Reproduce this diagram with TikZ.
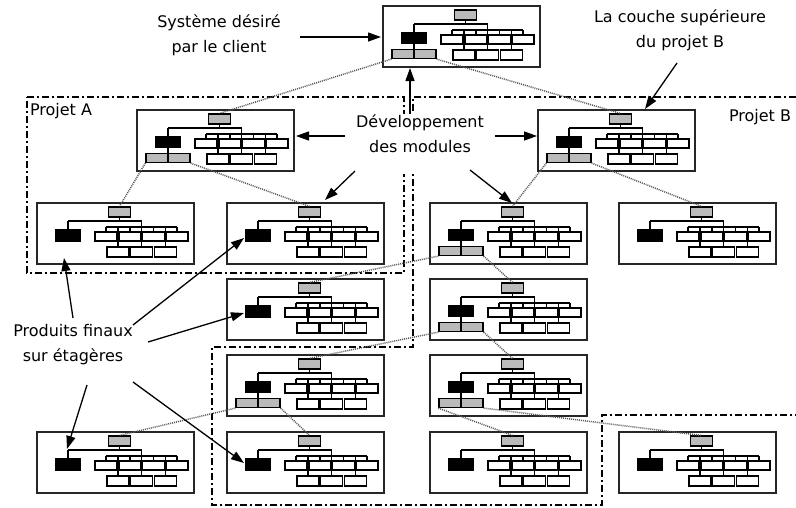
\documentclass[tikz,border=0pt]{standalone}
\usepackage{fontspec}
\setmainfont{DejaVu Sans}
\usetikzlibrary{arrows.meta}
\newcommand\mychartbody{%
  \node[frm] (-frame) at (78.5,30.5) {};
  \draw[tree] (82.5,14) -- (82.5,18) (31,18) -- (104.75,18) (31,18) -- (31,27) (104.75,18) -- (104.75,44)
    (69,24) -- (140,24) (69,24) -- (69,29) (93,24) -- (93,29) (116.5,24) -- (116.5,29) (140,24) -- (140,29)
    (81,24) -- (81,44) (128.25,24) -- (128.25,44);
  \node[gbx] (-top) at (82.5,9) {};
  \foreach \cx in {69,93,116.5,140} \node[wbx] at (\cx,33.5) {};
  \foreach \cx in {81,104.75,128.25} \node[wbx, minimum height=10pt] at (\cx,49) {};
}
\tikzset{
  frm/.style={draw=black!85, line width=1.5pt, fill=white, minimum width=157pt, minimum height=61pt, inner sep=0pt},
  gbx/.style={draw=black, line width=1.2pt, fill=black!27, minimum width=22pt, minimum height=10pt, inner sep=0pt},
  kbx/.style={draw=black, line width=1.2pt, fill=black, minimum width=24pt, minimum height=11pt, inner sep=0pt},
  wbx/.style={draw=black, line width=1.2pt, fill=white, minimum width=22pt, minimum height=9pt, inner sep=0pt},
  tree/.style={line width=1.3pt, draw=black},
  conn/.style={draw=black!65, line width=1.5pt, dash pattern=on 1pt off 1pt},
  bound/.style={draw=black, line width=1.2pt, dash pattern=on 7pt off 3pt on 2pt off 3pt},
  arr/.style={line width=1.3pt, -{Triangle[length=13pt,width=9pt]}},
  lbl/.style={align=center, font=\fontsize{16}{25}\selectfont, inner sep=1pt},
  pics/chart/.style={code={%
    \mychartbody
    \node[kbx] (-blk) at (31,32.5) {};
  }},
  pics/chartk/.style={code={%
    \mychartbody
    \draw[tree] (31,37) -- (31,44);
    \node[kbx, minimum height=10pt] (-blk) at (31,32) {};
    \node[gbx, minimum height=9pt] (-kl) at (20,48) {};
    \node[gbx, minimum height=9pt] (-kr) at (42,48) {};
  }}
}
\begin{document}
\begin{tikzpicture}[x=1pt,y=-1pt]
\useasboundingbox (0,0) rectangle (796,507);
% project boundaries
\draw[bound] (27,97) -- (404,97) -- (404,273) -- (27,273) -- cycle;
\draw[bound] (796,97) -- (413,97) -- (413,347) -- (212,347) -- (212,505) -- (602,505) -- (602,415) -- (796,415);
\fill[white] (346,114) rectangle (494,174);
% charts
\pic (t) at (383,6) {chartk};
\pic (a1) at (137,110) {chartk};
\pic (b1) at (538,110) {chartk};
\pic (r2a) at (37,203) {chart};
\pic (r2b) at (227,203) {chart};
\pic (r2c) at (430,203) {chartk};
\pic (r2d) at (619,203) {chart};
\pic (r3b) at (227,279) {chart};
\pic (r3c) at (430,279) {chartk};
\pic (r4b) at (227,355) {chartk};
\pic (r4c) at (430,355) {chartk};
\pic (r5a) at (37,432) {chart};
\pic (r5b) at (227,432) {chart};
\pic (r5c) at (430,432) {chart};
\pic (r5d) at (619,432) {chart};
% dotted module links
\draw[conn] (t-kl.south west) -- (a1-top.north);
\draw[conn] (t-kr.south east) -- (b1-top.north);
\draw[conn] (a1-kl.south west) -- (r2a-top.north);
\draw[conn] (a1-kr.south east) -- (r2b-top.north);
\draw[conn] (b1-kl.south west) -- (r2c-top.north);
\draw[conn] (b1-kr.south east) -- (r2d-top.north);
\draw[conn] (r2c-kl.south west) -- (r3b-top.north);
\draw[conn] (r2c-kr.south east) -- (r3c-top.north);
\draw[conn] (r3c-kl.south west) -- (r4b-top.north);
\draw[conn] (r3c-kr.south east) -- (r4c-top.north);
\draw[conn] (r4b-kl.south west) -- (r5a-top.north);
\draw[conn] (r4b-kr.south east) -- (r5b-top.north);
\draw[conn] (r4c-kl.south west) -- (r5c-top.north);
\draw[conn] (r4c-kr.south east) -- (r5d-top.north);
% labels
\node[lbl] (sys) at (219,35) {Système désiré\\par le client};
\node[lbl] (couche) at (680,30) {La couche supérieure\\du projet B};
\node[lbl] (dev) at (420,134) {Développement\\des modules};
\node[lbl] (prod) at (73,345) {Produits finaux\\sur étagères};
\node[lbl] (pa) at (61,111) {Projet A};
\node[lbl] (pb) at (760,117) {Projet B};
% arrow end points
\coordinate (sysS) at (300,37);
\coordinate (sysE) at (381,37);
\coordinate (coS) at (677,63);
\coordinate (coE) at (645,109);
\coordinate (dvU0) at (410,114);
\coordinate (dvU1) at (410,68);
\coordinate (dvL0) at (345,136);
\coordinate (dvL1) at (296,136);
\coordinate (dvR0) at (495,136);
\coordinate (dvR1) at (537,136);
\coordinate (dvDL0) at (355,171);
\coordinate (dvDL1) at (325,200);
\coordinate (dvDR0) at (470,170);
\coordinate (dvDR1) at (512,203);
\coordinate (pU0) at (73,318);
\coordinate (pU1) at (64,258);
\coordinate (pA0) at (133,325);
\coordinate (pA1) at (244,238);
\coordinate (pB0) at (148,342);
\coordinate (pB1) at (244,313);
\coordinate (pC0) at (87,385);
\coordinate (pC1) at (67,449);
\coordinate (pD0) at (133,382);
\coordinate (pD1) at (244,463);
\draw[arr] (sysS) -- (sysE);
\draw[arr] (coS) -- (coE);
\draw[arr] (dvU0) -- (dvU1);
\draw[arr] (dvL0) -- (dvL1);
\draw[arr] (dvR0) -- (dvR1);
\draw[arr] (dvDL0) -- (dvDL1);
\draw[arr] (dvDR0) -- (dvDR1);
\draw[arr] (pU0) -- (pU1);
\draw[arr] (pA0) -- (pA1);
\draw[arr] (pB0) -- (pB1);
\draw[arr] (pC0) -- (pC1);
\draw[arr] (pD0) -- (pD1);
\end{tikzpicture}
\end{document}
